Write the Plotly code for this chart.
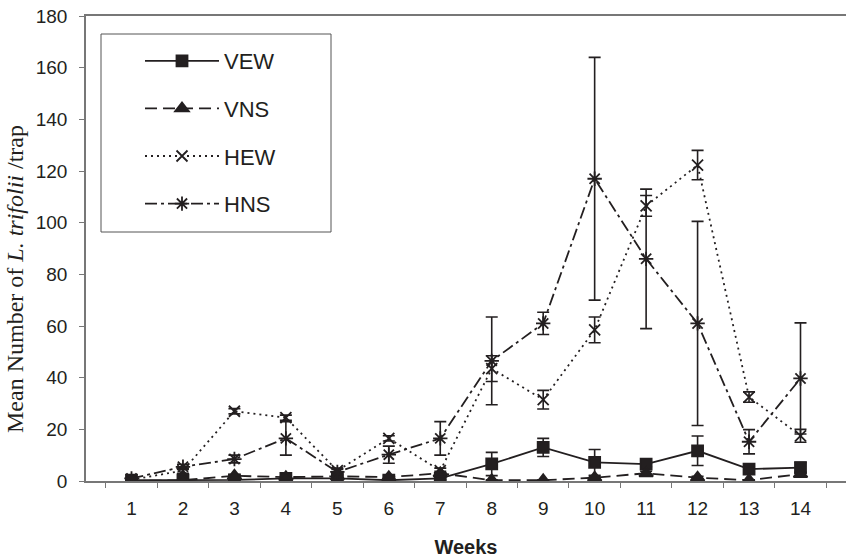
import plotly.graph_objects as go

weeks = [str(w) for w in range(1, 15)]

vew = [0.3, 0.4, 0.4, 1.0, 1.0, 0.3, 1.0, 6.6, 13.0, 7.2, 6.5, 11.7, 4.6, 5.2]
vew_err = [0.3, 0.3, 0.3, 0.5, 0.5, 0.3, 0.5, 4.5, 3.5, 5.0, 1.0, 5.7, 1.0, 2.0]

vns = [0.0, 0.3, 2.0, 1.5, 1.8, 1.5, 3.0, 0.3, 0.3, 1.3, 3.0, 1.3, 0.3, 2.7]
vns_err = [0.2, 0.2, 0.5, 0.5, 0.5, 0.5, 0.8, 0.2, 0.2, 0.5, 0.8, 0.5, 0.2, 0.8]

hew = [0.5, 4.0, 27.0, 24.5, 4.0, 16.5, 4.0, 43.5, 31.5, 58.5, 106.5, 122.3, 32.5, 17.5]
hew_err = [0.3, 1.0, 1.0, 1.0, 1.0, 1.0, 1.0, 5.0, 3.6, 5.0, 4.0, 5.7, 2.0, 2.5]

hns = [1.0, 5.5, 8.5, 16.5, 3.5, 10.2, 16.5, 46.5, 61.0, 117.0, 86.0, 61.0, 15.2, 39.7]
hns_err = [0.3, 1.0, 1.5, 6.5, 1.0, 3.3, 6.5, 17.0, 4.3, 47.0, 27.0, 39.5, 4.7, 21.5]

names = ["VEW", "VNS", "HEW", "HNS"]
series = [vew, vns, hew, hns]
errors = [vew_err, vns_err, hew_err, hns_err]
dashes = ["solid", "12px,6px", "2px,4px", "12px,4px,3px,4px"]
symbols = ["square", "triangle-up", "x-thin", "asterisk"]
sizes = [11, 12, 11, 12]

INK = "#231f20"
AX = "#777777"

fig = go.Figure()
for name, ys, err, dash, sym, sz in zip(names, series, errors, dashes, symbols, sizes):
    fig.add_trace(go.Scatter(
        x=weeks, y=ys, name=name, mode="lines+markers",
        legendgroup=name,
        line=dict(color=INK, width=1.8, dash=dash),
        marker=dict(symbol=sym, size=sz, color=INK,
                    line=dict(color=INK, width=1.8)),
        error_y=dict(type="data", array=err, visible=True,
                     color=INK, thickness=1.6, width=6),
    ))

# legend frame
L, R, T, B = 86, 846, 16, 481
def px_x(p):
    return (p - L) / (R - L)
def px_y(p):
    return (B - p) / (B - T)

fig.add_shape(type="rect", xref="paper", yref="paper",
              x0=px_x(101), x1=px_x(331), y0=px_y(232), y1=px_y(34),
              line=dict(color="#555555", width=1), fillcolor="white", layer="above")

fig.add_annotation(
    text="Mean Number of <i>L. trifolii</i> /trap",
    xref="paper", yref="paper", x=px_x(15), y=px_y(279),
    xanchor="center", yanchor="middle",
    textangle=-90, showarrow=False,
    font=dict(family="Liberation Serif, Times New Roman, serif", size=24, color=INK),
)

fig.update_layout(
    width=846, height=560,
    margin=dict(l=L, r=846 - R, t=T, b=560 - B),
    paper_bgcolor="white", plot_bgcolor="white",
    font=dict(family="Liberation Sans, Arial, sans-serif", color=INK),
    showlegend=True,
    legend=dict(
        x=px_x(140), y=px_y(40), xanchor="left", yanchor="top",
        bgcolor="rgba(0,0,0,0)", borderwidth=0,
        font=dict(size=22, color=INK),
        itemwidth=74, tracegroupgap=16,
    ),
    xaxis=dict(
        type="category", tickson="boundaries",
        ticks="outside", ticklen=5, tickcolor=AX, tickwidth=1,
        showline=True, linecolor=AX, linewidth=1.5, mirror=True,
        showgrid=False, zeroline=False,
        tickfont=dict(size=19, color=INK), ticklabelstandoff=9,
        title=dict(text="<b>Weeks</b>", font=dict(size=20, color=INK), standoff=22),
    ),
    yaxis=dict(
        range=[0, 180], dtick=20, tick0=0,
        ticks="outside", ticklen=5, tickcolor=AX, tickwidth=1,
        showline=True, linecolor=AX, linewidth=1.5,
        showgrid=False, zeroline=False,
        tickfont=dict(size=19, color=INK), ticklabelstandoff=8,
    ),
)

fig.write_html("out.html")
